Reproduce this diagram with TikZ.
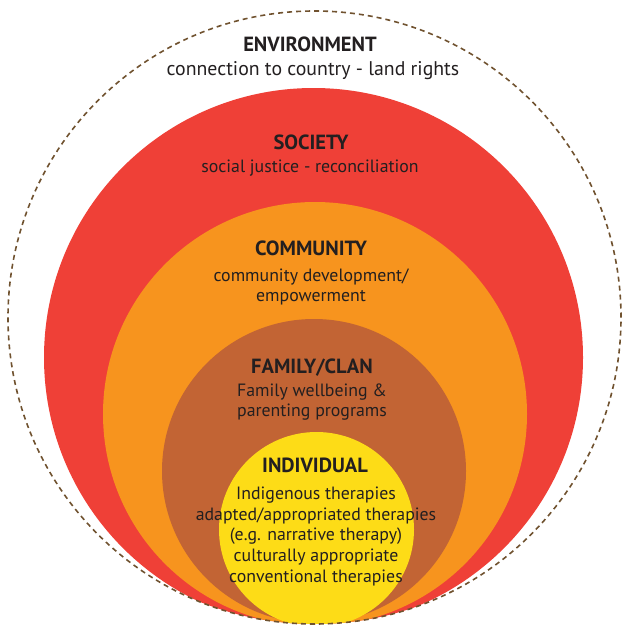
\documentclass[tikz,border=0pt]{standalone}
\usepackage{fontspec}
\setmainfont{PT Sans}
\definecolor{ringred}{HTML}{EF4037}
\definecolor{ringorange}{HTML}{F7941E}
\definecolor{ringbrown}{HTML}{C26434}
\definecolor{ringyellow}{HTML}{FDDC17}
\definecolor{dashbrown}{HTML}{70522F}
\definecolor{txt}{HTML}{231F20}
\tikzset{
  head/.style={anchor=base, inner sep=0pt, text=txt, font=\bfseries\fontsize{20.5}{24}\selectfont},
  body/.style={anchor=base, inner sep=0pt, text=txt, font=\fontsize{17.8}{21}\selectfont},
  bigbody/.style={body, font=\fontsize{19.8}{23}\selectfont},
  envline/.style={draw=dashbrown, line width=1.6pt, dash pattern=on 5pt off 4pt}
}
\begin{document}
\begin{tikzpicture}[x=1pt,y=-1pt]
\useasboundingbox (0,0) rectangle (622,626);
\begin{scope}
  \clip (314.5,317.5) circle[radius=306.5pt];
  \fill[ringred] (313.5,357.5) circle[radius=269.5pt];
  \fill[ringorange] (315,414) circle[radius=212pt];
  \fill[ringbrown] (314,471) circle[radius=152pt];
  \fill[ringyellow] (316.5,529.5) circle[radius=97.5pt];
\end{scope}
\draw[envline] (314.5,317.5) circle[radius=306.5pt];
% texts
\node[head] (envh) at (310,52) {ENVIRONMENT};
\node[bigbody] (env1) at (313,75) {connection to country - land rights};
\node[head] (soch) at (311,149) {SOCIETY};
\node[body] (soc1) at (310,172) {social justice - reconciliation};
\node[head] (comh) at (311,255) {COMMUNITY};
\node[body] (com1) at (311,281) {community development/};
\node[body] (com2) at (311,301) {empowerment};
\node[head] (famh) at (312,373) {FAMILY/CLAN};
\node[body] (fam1) at (312,396.5) {Family wellbeing \&};
\node[body] (fam2) at (312,416) {parenting programs};
\node[head] (indh) at (315,472) {INDIVIDUAL};
\node[body] (ind1) at (316,499) {Indigenous therapies};
\node[body] (ind2) at (316,520) {adapted/appropriated therapies};
\node[body] (ind3) at (316,540.5) {(e.g. narrative therapy)};
\node[body] (ind4) at (316,561) {culturally appropriate};
\node[body] (ind5) at (316,582) {conventional therapies};
\end{tikzpicture}
\end{document}
